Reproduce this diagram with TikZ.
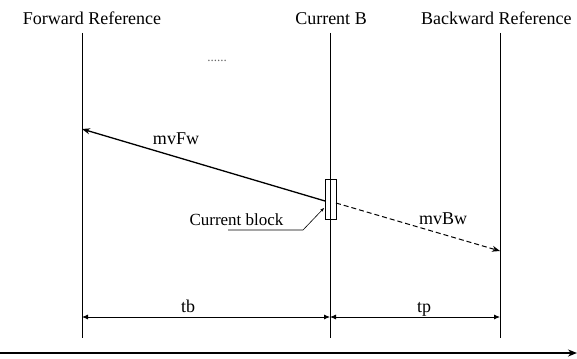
\documentclass[tikz,border=0pt]{standalone}
\usepackage{fontspec}
\setmainfont{Liberation Serif}
\usetikzlibrary{arrows.meta}
\begin{document}
\begin{tikzpicture}[x=1pt,y=-1pt,
  lbl/.style={font=\fontsize{18}{20}\selectfont, inner sep=0pt},
  vline/.style={line width=1pt},
  mv/.style={line width=1.3pt},
  dim/.style={line width=0.8pt, {Latex[length=6pt,width=5pt]}-{Latex[length=6pt,width=5pt]}}
]
\useasboundingbox (0,0) rectangle (577,358);
% vertical lines
\coordinate (fwt) at (82,33);  \coordinate (fwb) at (82,338);
\coordinate (cbt) at (330,33); \coordinate (cbb) at (330,338);
\coordinate (bwt) at (500,33); \coordinate (bwb) at (500,338);
\draw[vline] (fwt) -- (fwb);
\draw[vline] (cbt) -- (cbb);
\draw[vline] (bwt) -- (bwb);
% titles
\node[lbl, anchor=base] (tfw) at (92,25) {Forward Reference};
\node[lbl, anchor=base] (tcb) at (331,25) {Current B};
\node[lbl, anchor=base west] (tbw) at (421,25) {Backward Reference};
% dots
\node[inner sep=0pt, text=black!60, font=\fontsize{13}{14}\selectfont, anchor=base] (dots) at (217,62) {......};
% current block
\node[draw, line width=0.7pt, minimum width=11pt, minimum height=40pt, inner sep=0pt] (blk) at (330.5,199) {};
% motion vectors
\coordinate (fwend) at (82,129);
\coordinate (bwend) at (500,251);
\coordinate (blkL) at (325,201);
\coordinate (blkR) at (336,203);
\draw[mv, -{Stealth[length=8pt,width=6pt]}] (blkL) -- (fwend);
\draw[line width=1pt, dash pattern=on 5pt off 3pt, -{Stealth[length=8pt,width=6pt]}] (blkR) -- (bwend);
\node[lbl, anchor=base] (mvfw) at (176,144) {mvFw};
\node[lbl, anchor=base] (mvbw) at (443,224) {mvBw};
% current block label
\node[lbl, anchor=base, font=\fontsize{17}{19}\selectfont] (cbl) at (236.5,225) {Current block};
\coordinate (u1) at (228,230);
\coordinate (u2) at (303,230);
\coordinate (u3) at (324,208);
\draw[line width=0.6pt, -{Stealth[length=4pt,width=3pt]}] (u1) -- (u2) -- (u3);
% dimensions
\coordinate (d1) at (82,317);
\coordinate (d2) at (330,317);
\coordinate (d3) at (500,317);
\draw[dim] (d1) -- (d2);
\draw[dim] (d2) -- (d3);
\node[lbl, anchor=base] (tb) at (188,312) {tb};
\node[lbl, anchor=base] (tp) at (424,312) {tp};
% time axis
\coordinate (ax1) at (0,353);
\coordinate (ax2) at (577,353);
\draw[line width=2.2pt, -{Stealth[length=9pt,width=7pt]}] (ax1) -- (ax2);
\end{tikzpicture}
\end{document}
